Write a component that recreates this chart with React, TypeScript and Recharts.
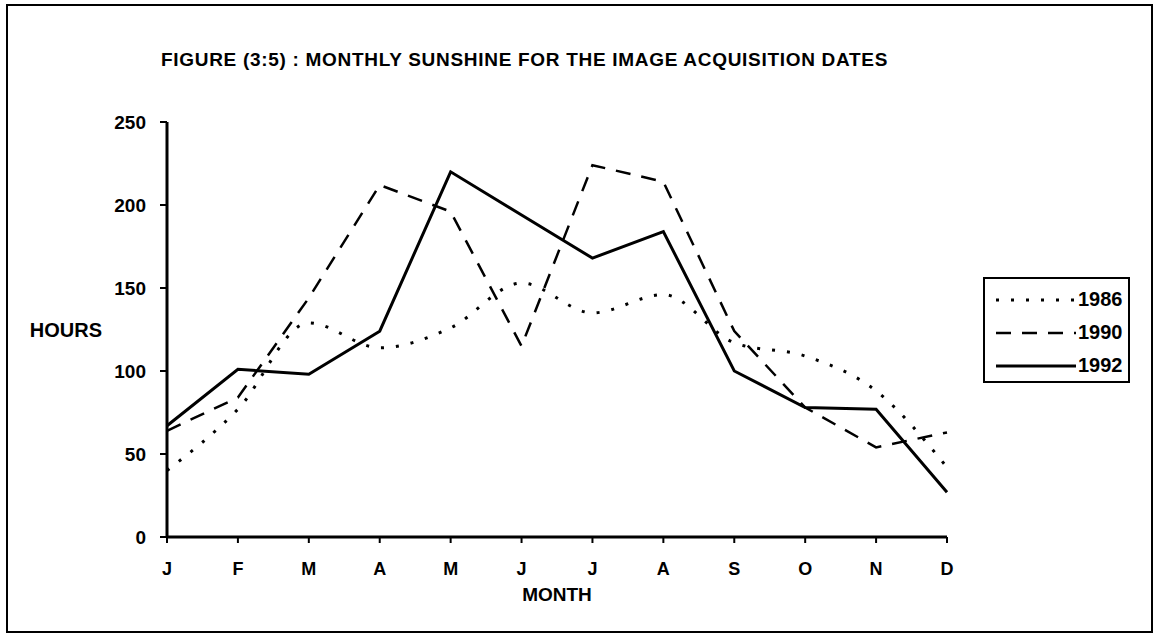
import React from 'react';
import { LineChart, Line, XAxis, YAxis, Legend } from 'recharts';

const months = ['J', 'F', 'M', 'A', 'M', 'J', 'J', 'A', 'S', 'O', 'N', 'D'];
const sun1986 = [40, 77, 129, 114, 126, 153, 135, 146, 117, 109, 88, 42];
const sun1990 = [64, 84, 144, 212, 196, 115, 224, 214, 124, 78, 54, 63];
const sun1992 = [67, 101, 98, 124, 220, 194, 168, 184, 100, 78, 77, 27];
const yTicks = [0, 50, 100, 150, 200, 250];

const SERIES = [
  { key: 'y1986', name: '1986', dash: '3 12', width: 3, curve: 'monotone' },
  { key: 'y1990', name: '1990', dash: '15 11', width: 2.5, curve: 'linear' },
  { key: 'y1992', name: '1992', dash: undefined, width: 3, curve: 'linear' },
];

const data = months.map((m, i) => ({
  month: m,
  y1986: sun1986[i],
  y1990: sun1990[i],
  y1992: sun1992[i],
}));

const FONT = '"Liberation Sans", Arial, Helvetica, sans-serif';

function renderLegend(props: any) {
  const payload = props.payload || [];
  return (
    <div
      style={{
        width: 147,
        height: 106,
        boxSizing: 'border-box',
        border: '2.5px solid #000',
        background: '#fff',
        padding: '4px 0 0 10px',
      }}
    >
      {payload.map((p: any) => {
        const s = SERIES.find((x) => x.name === p.value);
        return (
          <div key={p.value} style={{ display: 'flex', alignItems: 'center', height: 33 }}>
            <svg width={82} height={10}>
              <line
                x1={1}
                y1={5}
                x2={81}
                y2={5}
                stroke="#000"
                strokeWidth={s ? s.width : 3}
                strokeDasharray={s ? s.dash : undefined}
              />
            </svg>
            <span style={{ fontFamily: FONT, fontWeight: 'bold', fontSize: 20, color: '#000', marginLeft: 1 }}>
              {p.value}
            </span>
          </div>
        );
      })}
    </div>
  );
}

export default function App() {
  return (
    <div style={{ position: 'absolute', left: 0, top: 0, width: 1154, height: 637, background: '#fff', fontFamily: FONT }}>
      <div
        style={{
          position: 'absolute',
          left: 6,
          top: 4,
          width: 1147,
          height: 629,
          boxSizing: 'border-box',
          border: '2px solid #000',
        }}
      />
      <div
        style={{
          position: 'absolute',
          left: 0,
          top: 49,
          width: 1049,
          textAlign: 'center',
          fontWeight: 'bold',
          fontSize: 19,
          letterSpacing: '0.7px',
          lineHeight: '22px',
          color: '#000',
        }}
      >
        FIGURE (3:5) : MONTHLY SUNSHINE FOR THE IMAGE ACQUISITION DATES
      </div>
      <div style={{ position: 'absolute', left: 0, top: 0 }}>
        <LineChart
          width={1154}
          height={637}
          data={data}
          margin={{ top: 122, right: 207, bottom: 70, left: 107 }}
        >
          <XAxis
            dataKey="month"
            height={30}
            axisLine={{ stroke: '#000', strokeWidth: 3 }}
            tickLine={{ stroke: '#000', strokeWidth: 2 }}
            tickSize={6}
            tickMargin={19}
            tick={{ fill: '#000', fontSize: 18, fontWeight: 'bold', fontFamily: FONT }}
            interval={0}
            label={{ value: 'MONTH', position: 'bottom', offset: 21, fill: '#000', fontSize: 19, fontWeight: 'bold', fontFamily: FONT }}
          />
          <YAxis
            width={60}
            domain={[0, 250]}
            ticks={yTicks}
            interval={0}
            axisLine={{ stroke: '#000', strokeWidth: 3 }}
            tickLine={{ stroke: '#000', strokeWidth: 2 }}
            tickSize={7}
            tickMargin={14}
            tick={{ fill: '#000', fontSize: 19, fontWeight: 'bold', fontFamily: FONT }}
            label={{ value: 'HOURS', position: 'left', offset: 5, fill: '#000', fontSize: 20, fontWeight: 'bold', fontFamily: FONT }}
          />
          <Legend
            layout="horizontal"
            verticalAlign="middle"
            align="center"
            content={renderLegend}
            wrapperStyle={{ left: 983, top: 277, width: 147, height: 106 }}
          />
          {SERIES.map((s) => (
            <Line
              key={s.key}
              dataKey={s.key}
              name={s.name}
              type={s.curve as any}
              stroke="#000"
              strokeWidth={s.width}
              strokeDasharray={s.dash}
              dot={false}
              activeDot={false}
              isAnimationActive={false}
            />
          ))}
        </LineChart>
      </div>
    </div>
  );
}
